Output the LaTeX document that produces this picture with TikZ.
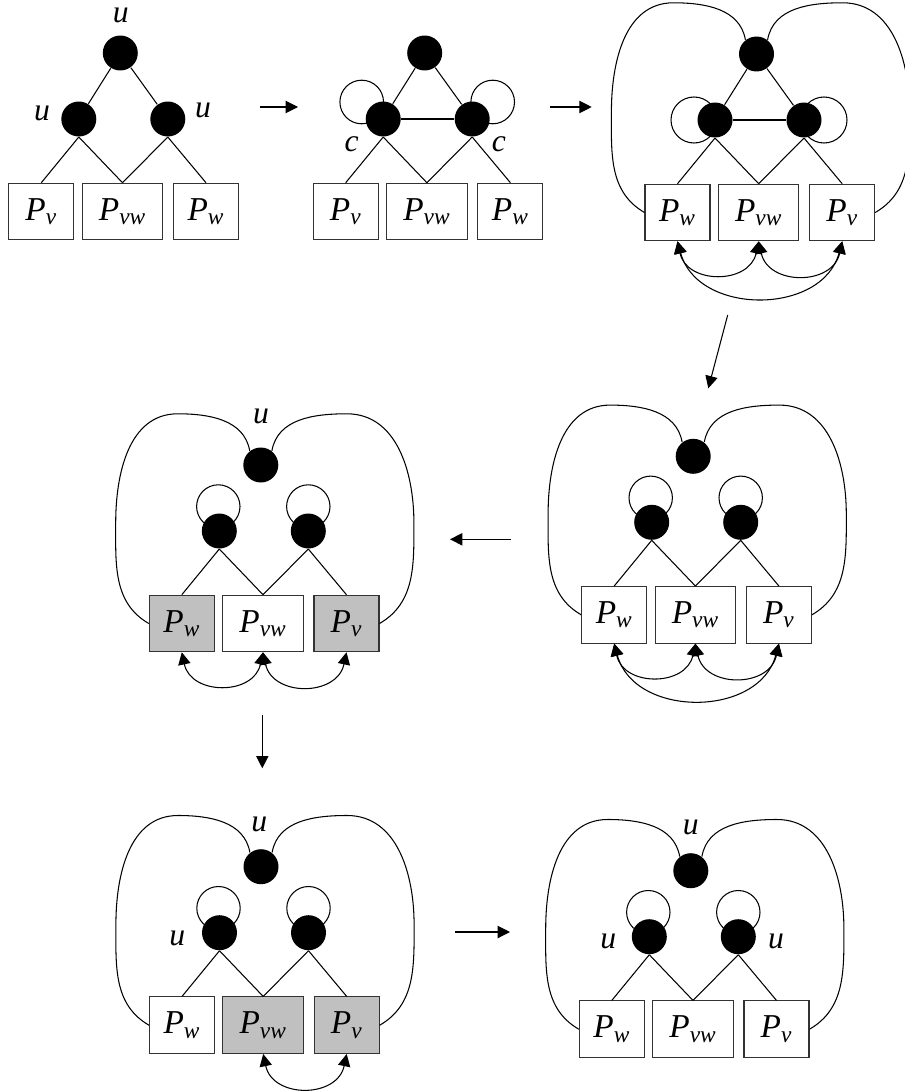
\documentclass[tikz,border=0pt]{standalone}
\usepackage{fontspec}
\setmainfont{Liberation Serif}
\usetikzlibrary{arrows.meta}
\definecolor{boxgray}{RGB}{192,192,192}
\tikzset{
	vtx/.style={circle, fill=black, minimum size=0.7cm, inner sep=0pt},
	part/.style={draw=black!80, rectangle, minimum width=1.3cm, minimum height=1.13cm, inner sep=0pt, font=\fontsize{19}{22}\selectfont\itshape},
	wide/.style={minimum width=1.61cm},
	lbl/.style={inner sep=0pt, font=\fontsize{18}{21}\selectfont\itshape},
	swap/.style={<->, looseness=1.4}
}
\begin{document}
\begin{tikzpicture}[x=0.02cm, y=0.02cm, line width=0.6pt, >={Triangle[length=7pt,width=7pt]}]
\useasboundingbox (0,0) rectangle (905,-1091);

% the seven stages: vertices, parts and the edges down to the parts
\foreach \p/\ox/\oy/\la/\lc/\fa/\fb/\fc in {
	1/123.3/119/v/w/white/white/white,
	2/427.7/119/v/w/white/white/white,
	3/759.5/120/w/v/white/white/white,
	4/696.2/522.3/w/v/white/white/white,
	5/263.8/531/w/v/boxgray/white/boxgray,
	6/264/932.7/w/v/white/boxgray/boxgray,
	7/693.8/936.7/w/v/white/white/white}
{
	\begin{scope}[shift={(\ox,-\oy)}]
		\node[vtx] (p\p-t) at (-3,66) {};
		\node[vtx] (p\p-l) at (-44.5,0) {};
		\node[vtx] (p\p-r) at (44.5,0) {};
		\node[part, fill=\fa] (p\p-a) at (-82,-92.5) {P\textsubscript{\la}};
		\node[part, wide, fill=\fb] (p\p-b) at (-0.8,-92.5) {P\textsubscript{vw}};
		\node[part, fill=\fc] (p\p-c) at (82.7,-92.5) {P\textsubscript{\lc}};
	\end{scope}
	\draw (p\p-l.south) -- (p\p-a.north);
	\draw (p\p-l.south) -- (p\p-b.north);
	\draw (p\p-r.south) -- (p\p-b.north);
	\draw (p\p-r.south) -- (p\p-c.north);
}

% triangle edges
\foreach \p in {1, 2, 3}
{
	\draw (p\p-t) -- (p\p-l);
	\draw (p\p-t) -- (p\p-r);
}
\draw (p2-l) -- (p2-r);
\draw (p3-l) -- (p3-r);

% loops
\draw (p2-l) ++(-21.5,17) circle[radius=21.8];
\draw (p2-r) ++(20.5,17) circle[radius=21.8];
\draw (p3-l) ++(-21,0) circle[radius=23];
\draw (p3-r) ++(20,0) circle[radius=23];
\foreach \p in {4, 5, 6, 7}
{
	\draw (p\p-l) ++(-1,24.5) circle[radius=21.7];
	\draw (p\p-r) ++(0,24.5) circle[radius=21.7];
}

% outer curves from the top vertex down to the outer parts
\foreach \p in {3, 4, 5, 6, 7}
{
	\draw (p\p-t.128) to[out=100, in=0] ++(-72,37) to[out=180, in=90] ++(-62,-109) to[out=-90, in=150] (p\p-a.west);
	\draw (p\p-t.52) to[out=80, in=180] ++(75,37) to[out=0, in=90] ++(67,-109) to[out=-90, in=30] (p\p-c.east);
}

% exchanges between parts
\foreach \p in {3, 4}
{
	\draw[swap] (p\p-a.south) to[out=-78, in=-102] (p\p-b.south);
	\draw[swap] (p\p-b.south) to[out=-78, in=-102] (p\p-c.south);
	\draw[<->] (p\p-a.south) to[out=-75, in=-105, looseness=1.2] (p\p-c.south);
}
\draw[swap] (p5-a.south) to[out=-78, in=-102] (p5-b.south);
\draw[swap] (p5-b.south) to[out=-78, in=-102] (p5-c.south);
\draw[swap] (p6-b.south) to[out=-78, in=-102] (p6-c.south);

% labels
\node[lbl] (u1t) at (120.7,-15.5) {u};
\node[lbl] (u1l) at (42,-113) {u};
\node[lbl] (u1r) at (203,-110) {u};
\node[lbl] (c2l) at (351.7,-144) {c};
\node[lbl] (c2r) at (499,-144) {c};
\node[lbl] (u5t) at (261,-416.7) {u};
\node[lbl] (u6t) at (259.3,-824) {u};
\node[lbl] (u6l) at (177.3,-938.3) {u};
\node[lbl] (u7t) at (690.7,-827.3) {u};
\node[lbl] (u7l) at (608.3,-941.7) {u};
\node[lbl] (u7r) at (776,-941.7) {u};

% steps between the stages
\coordinate (s1) at (260,-107);
\coordinate (e1) at (298,-107);
\coordinate (s2) at (550,-107);
\coordinate (e2) at (591.7,-107);
\coordinate (s3) at (727.7,-315);
\coordinate (e3) at (708.3,-388.3);
\coordinate (s4) at (510.7,-539.3);
\coordinate (e4) at (450,-539.3);
\coordinate (s5) at (262.3,-715);
\coordinate (e5) at (262.3,-768.3);
\coordinate (s6) at (455,-932);
\coordinate (e6) at (510,-932);
\foreach \k in {1, ..., 6}
{
	\draw[->] (s\k) -- (e\k);
}
\end{tikzpicture}
\end{document}
